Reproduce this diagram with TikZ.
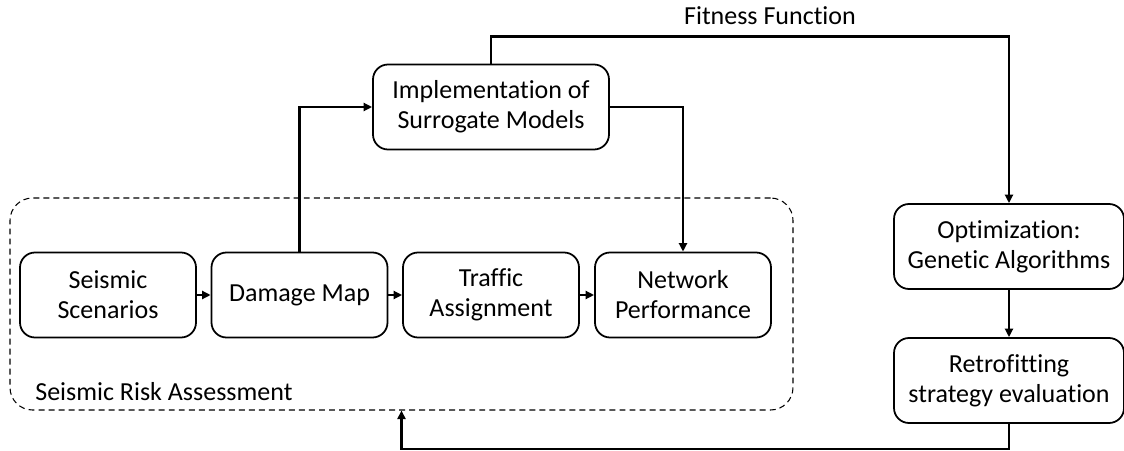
\documentclass[tikz,border=0pt]{standalone}
\usepackage{fontspec}
\setmainfont[Ligatures=NoCommon]{Carlito}
\usetikzlibrary{arrows.meta}

\begin{document}
\begin{tikzpicture}[
    blk/.style={draw, line width=1pt, rounded corners=0.3cm, minimum width=3.52cm, minimum height=1.7cm, inner sep=0pt, align=center, font=\fontsize{14.8}{17}\selectfont},
    conn/.style={line width=1.3pt, -{Triangle[length=1.7mm,width=1.6mm]}},
    lbl/.style={inner sep=0pt, font=\fontsize{14.8}{17}\selectfont}]
    \useasboundingbox (0,0) rectangle (22.48,9);
    \node[draw, dashed, dash pattern=on 3.4pt off 2.3pt, line width=0.6pt, rounded corners=0.45cm, minimum width=15.66cm, minimum height=4.24cm, inner sep=0pt] (sra) at (8.03,2.92) {};   %SRA
    \node[lbl, anchor=west] (sralbl) at (0.7,1.16) {Seismic Risk Assessment};
    \node[blk] (seis) at (2.16,3.1) {Seismic\\Scenarios};
    \node[blk] (dmg) at (5.99,3.1) {Damage Map};
    \node[blk] (traf) at (9.82,3.1) {Traffic\\Assignment};
    \node[blk] (netp) at (13.66,3.1) {Network\\Performance};
    \node[blk, minimum width=4.72cm] (impl) at (9.82,6.86) {Implementation of\\Surrogate Models};   %SM
    \node[blk, minimum width=4.6cm] (opt) at (20.18,4.07) {Optimization:\\Genetic Algorithms};   %GA
    \node[blk, minimum width=4.6cm] (retro) at (20.18,1.39) {Retrofitting\\strategy evaluation};
    \node[lbl] (fit) at (15.4,8.68) {Fitness Function};
    \draw[conn] (seis) -- (dmg);
    \draw[conn] (dmg) -- (traf);
    \draw[conn] (traf) -- (netp);
    \draw[conn] (dmg.north) |- (impl.west);
    \draw[conn] (impl.east) -| (netp.north);
    \draw[conn] (impl.north) -- ++(0,0.54) -| (opt.north);
    \draw[conn] (opt) -- (retro);
    \draw[conn] (retro.south) -- ++(0,-0.5) -| (sra.south);
\end{tikzpicture}
\end{document}
